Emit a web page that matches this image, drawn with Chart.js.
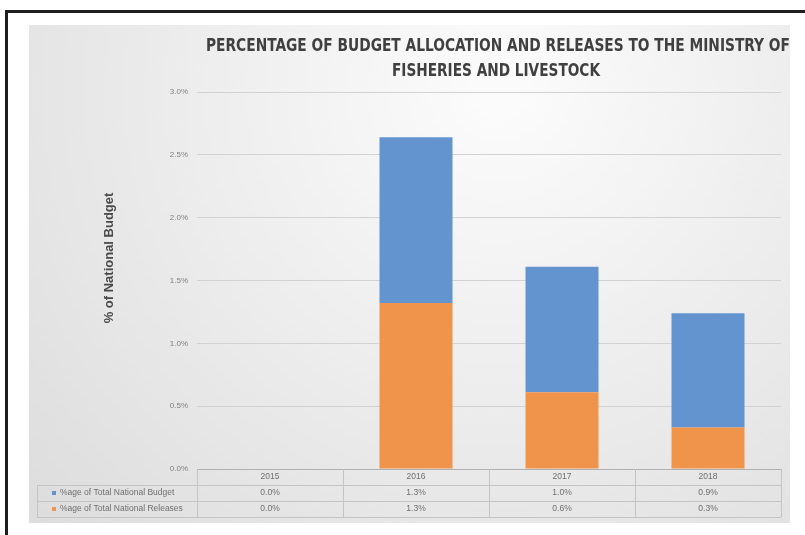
<!DOCTYPE html>
<html lang="en">
<head>
    <meta charset="UTF-8">
    <title>Budget Allocation and Releases</title>
    <script src="https://cdn.jsdelivr.net/npm/chart.js"></script>
    <style>
        body {
            margin: 0;
            padding: 0;
            background-color: #ffffff;
        }
        .wrap {
            width: 805px;
            height: 535px;
        }
    </style>
</head>
<body>
    <div class="wrap">
        <canvas id="budgetChart" width="805" height="535"></canvas>
    </div>

    <script>
        // data
        const years = ["2015", "2016", "2017", "2018"];
        const budgetShare = [0.0, 1.32, 1.0, 0.91];   // %age of Total National Budget
        const releaseShare = [0.0, 1.32, 0.61, 0.33]; // %age of Total National Releases
        const yTicks = [0, 0.5, 1.0, 1.5, 2.0, 2.5, 3.0];

        const budgetLabel = "%age of Total National Budget";
        const releaseLabel = "%age of Total National Releases";
        const titleLines = ["PERCENTAGE OF BUDGET ALLOCATION AND RELEASES TO THE MINISTRY OF", "FISHERIES AND LIVESTOCK"];
        const yTitle = "% of National Budget";

        const blue = "#6394cf";
        const orange = "#f0934b";
        const smallFont = "8.5px 'Liberation Sans', Arial, sans-serif";

        // frame + grey panel behind the chart
        const backdrop = {
            id: "backdrop",
            beforeDraw(chart) {
                const ctx = chart.ctx;
                ctx.save();
                const g = ctx.createRadialGradient(500, 90, 20, 500, 90, 650);
                g.addColorStop(0, "#fbfbfb");
                g.addColorStop(1, "#dcdcdc");
                ctx.fillStyle = g;
                ctx.fillRect(29, 25, 761, 498);
                ctx.strokeStyle = "#1e1e1e";
                ctx.lineWidth = 3;
                ctx.beginPath();
                ctx.moveTo(6.5, 535);
                ctx.lineTo(6.5, 11.5);
                ctx.lineTo(805, 11.5);
                ctx.stroke();
                ctx.restore();
            }
        };

        // squeeze a title line into the width it has in the original
        function narrowText(ctx, text, cx, cy, width) {
            const sx = Math.min(1, width / ctx.measureText(text).width);
            ctx.save();
            ctx.translate(cx, cy);
            ctx.scale(sx, 1);
            ctx.fillText(text, 0, 0);
            ctx.restore();
        }

        // title, axis title and the data table under the plot
        const extras = {
            id: "extras",
            afterDraw(chart) {
                const ctx = chart.ctx;
                const area = chart.chartArea;
                const x = chart.scales.x;
                ctx.save();

                ctx.fillStyle = "#404040";
                ctx.textAlign = "center";
                ctx.textBaseline = "middle";
                ctx.font = "bold 17px 'Liberation Sans Narrow', 'DejaVu Sans Condensed', sans-serif";
                narrowText(ctx, titleLines[0], 498, 47, 584);
                narrowText(ctx, titleLines[1], 496, 72, 208);

                ctx.save();
                ctx.translate(109, 258);
                ctx.rotate(-Math.PI / 2);
                ctx.font = "bold 13px 'Liberation Sans', Arial, sans-serif";
                ctx.fillStyle = "#4a4a4a";
                ctx.fillText(yTitle, 0, 0);
                ctx.restore();

                const rowH = 16;
                const top = area.bottom;
                const half = (x.getPixelForValue(1) - x.getPixelForValue(0)) / 2;
                ctx.strokeStyle = "#c4c4c4";
                ctx.lineWidth = 1;

                // horizontal rules
                for (let r = 1; r <= 3; r++) {
                    const yy = Math.round(top + r * rowH) + 0.5;
                    ctx.beginPath();
                    ctx.moveTo(37, yy);
                    ctx.lineTo(area.right, yy);
                    ctx.stroke();
                }
                // vertical rules at category edges
                for (let i = 0; i <= years.length; i++) {
                    const xx = Math.round(x.getPixelForValue(i) - half) + 0.5;
                    ctx.beginPath();
                    ctx.moveTo(xx, top);
                    ctx.lineTo(xx, top + 3 * rowH);
                    ctx.stroke();
                }
                ctx.beginPath();
                ctx.moveTo(37.5, top + rowH);
                ctx.lineTo(37.5, top + 3 * rowH);
                ctx.stroke();

                ctx.font = smallFont;
                ctx.fillStyle = "#6e6e6e";
                years.forEach((yr, i) => {
                    const cx = x.getPixelForValue(i);
                    ctx.fillText(yr, cx, top + rowH * 0.5);
                    ctx.fillText(budgetShare[i].toFixed(1) + "%", cx, top + rowH * 1.5);
                    ctx.fillText(releaseShare[i].toFixed(1) + "%", cx, top + rowH * 2.5);
                });

                ctx.textAlign = "left";
                ctx.fillStyle = blue;
                ctx.fillRect(52, top + rowH * 1.5 - 2, 4, 4);
                ctx.fillStyle = orange;
                ctx.fillRect(52, top + rowH * 2.5 - 2, 4, 4);
                ctx.fillStyle = "#6e6e6e";
                ctx.fillText(budgetLabel, 60, top + rowH * 1.5);
                ctx.fillText(releaseLabel, 60, top + rowH * 2.5);

                ctx.restore();
            }
        };

        const ctx = document.getElementById("budgetChart").getContext("2d");
        new Chart(ctx, {
            type: "bar",
            data: {
                labels: years,
                datasets: [
                    {
                        label: releaseLabel,
                        data: releaseShare,
                        backgroundColor: orange,
                        barPercentage: 0.5,
                        categoryPercentage: 1.0
                    },
                    {
                        label: budgetLabel,
                        data: budgetShare,
                        backgroundColor: blue,
                        barPercentage: 0.5,
                        categoryPercentage: 1.0
                    }
                ]
            },
            options: {
                responsive: false,
                animation: false,
                layout: {
                    padding: { left: 137, top: 92, right: 24, bottom: 66 }
                },
                plugins: {
                    legend: { display: false },
                    title: { display: false },
                    tooltip: { enabled: false }
                },
                scales: {
                    x: {
                        stacked: true,
                        display: false
                    },
                    y: {
                        stacked: true,
                        min: 0,
                        max: 3,
                        afterBuildTicks(scale) {
                            scale.ticks = yTicks.map(v => ({ value: v }));
                        },
                        afterFit(scale) {
                            scale.width = 60;
                        },
                        border: { display: false },
                        grid: {
                            drawTicks: false,
                            color: ctx => ctx.tick && ctx.tick.value === 0 ? "#b0b0b0" : "#d2d2d2"
                        },
                        ticks: {
                            padding: 9,
                            color: "#808080",
                            font: { family: "'Liberation Sans', Arial, sans-serif", size: 8 },
                            callback: v => Number(v).toFixed(1) + "%"
                        }
                    }
                }
            },
            plugins: [backdrop, extras]
        });
    </script>
</body>
</html>
